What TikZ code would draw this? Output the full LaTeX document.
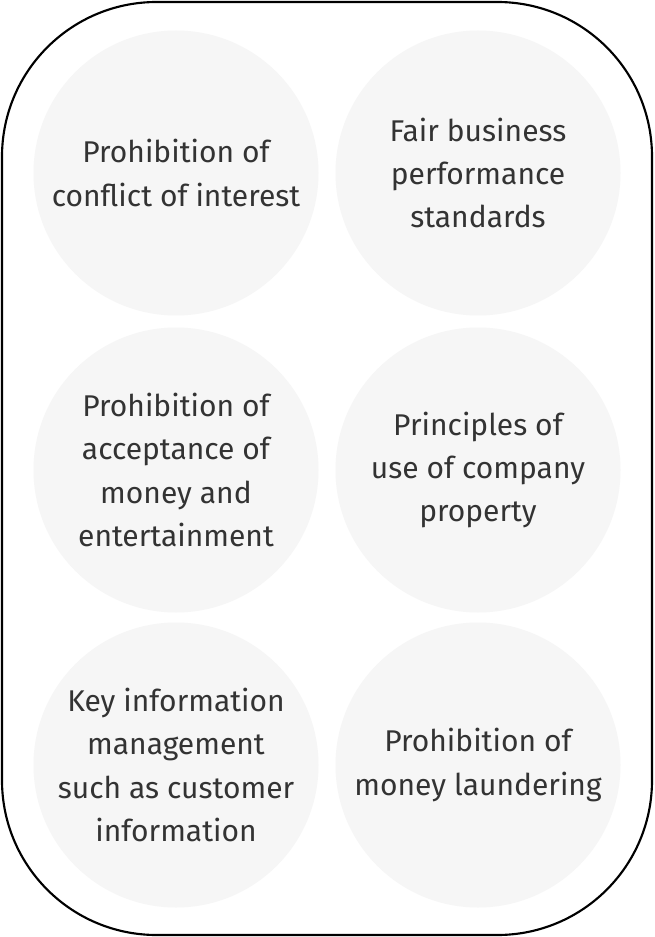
\documentclass[tikz,border=0pt]{standalone}
\usepackage{fontspec}
\setmainfont{Fira Sans}
\definecolor{circlefill}{HTML}{F6F6F6}
\definecolor{textgray}{HTML}{333333}
\tikzset{
  rule/.style={circle,fill=circlefill,minimum size=285pt*0.75,inner sep=0pt,align=center,
    text=textgray,font=\fontsize{22.5}{32.5}\selectfont},
  frame/.style={draw=black,line width=1.6pt,rounded corners=116pt}
}
\begin{document}
\begin{tikzpicture}[x=0.75pt,y=-0.75pt]
\useasboundingbox[fill=white](0,0) rectangle (654,937);
\draw[frame](2,2) rectangle (652,935);
\node[rule](conflict)at(176,173){Prohibition of\\conflict of interest};
\node[rule](fair)at(478,173){Fair business\\performance\\standards};
\node[rule](money)at(176,470){Prohibition of\\acceptance of\\money and\\entertainment};
\node[rule](property)at(478,470){Principles of\\use of company\\property};
\node[rule](keyinfo)at(176,765){Key information\\management\\such as customer\\information};
\node[rule](laundering)at(478,765){Prohibition of\\money laundering};
\end{tikzpicture}
\end{document}
